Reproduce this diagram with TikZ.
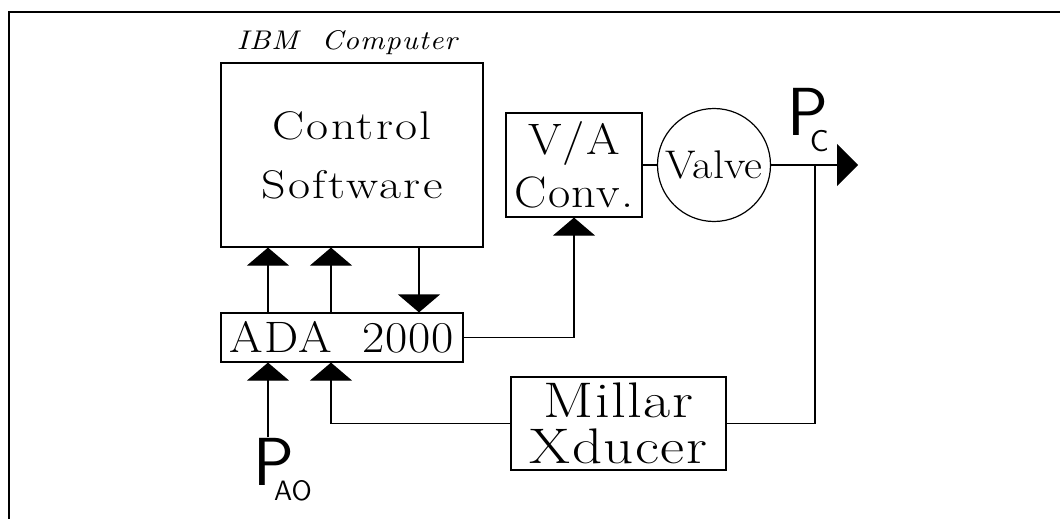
\documentclass[tikz,border=0pt]{standalone}
\usepackage{fontspec}
\setmainfont{lmroman17}[Extension=.otf, UprightFont=*-regular, ItalicFont=lmroman10-italic, BoldFont=lmroman10-bold]
\usepackage{tikz}
\usetikzlibrary{arrows.meta, positioning, shapes.geometric}

\begin{document}
\begin{tikzpicture}[x=0.5pt, y=-0.5pt,
  blk/.style={draw, line width=0.6pt, inner sep=0pt, align=center},
  ln/.style={line width=0.6pt},
  ar/.style={ln, -{Triangle[length=9pt,width=21pt]}},
  lbl/.style={inner sep=0pt, anchor=base west, font=\sffamily\fontsize{34}{34}\selectfont}
]
  \useasboundingbox (0,0) rectangle (1060,519);
  \draw[line width=1.2pt] (9,519) -- (9,12) -- (1060,12);

  \node[inner sep=0pt, font=\addfontfeatures{FakeStretch=1.1, LetterSpace=4}\fontsize{13.5}{15}\selectfont\itshape] (ibm) at (347,43) {IBM~~Computer};
  \node[blk, minimum width=131pt, minimum height=92pt,
    font=\addfontfeatures{FakeStretch=1.2, LetterSpace=6}\fontsize{20}{29.5}\selectfont] (ctrl) at (352,155) {Control\\Software};
  \node[blk, minimum width=68pt, minimum height=52pt,
    font=\addfontfeatures{FakeStretch=1.1, LetterSpace=3}\fontsize{22}{26.5}\selectfont] (va) at (574,165) {V/A\\Conv.};
  \node[blk, circle, minimum size=56.5pt,
    font=\addfontfeatures{FakeStretch=1.1}\fontsize{20}{22}\selectfont] (valve) at (714,165) {Valve};
  \node[blk, minimum width=121pt, minimum height=24.5pt,
    font=\addfontfeatures{FakeStretch=1.1, LetterSpace=2}\fontsize{22}{24}\selectfont] (ada) at (342,337.5) {ADA~~2000};
  \node[blk, minimum width=107.5pt, minimum height=46.5pt,
    font=\addfontfeatures{FakeStretch=1.18, LetterSpace=3}\fontsize{25}{23}\selectfont] (mil) at (618.5,423.5) {Millar\\Xducer};

  \node[lbl] (pc) at (787,135) {P\kern-9.2pt\raisebox{-8.5pt}{\fontsize{15}{15}\selectfont C}};
  \node[lbl] (pao) at (253,485) {P\kern-10pt\raisebox{-7.5pt}{\fontsize{14}{14}\selectfont AO}};

  \coordinate (c1) at (268,0);
  \coordinate (c2) at (331,0);
  \coordinate (c3) at (419,0);
  \coordinate (c5) at (815,0);
  \coordinate (pend) at (858,165);

  \draw[ar] (ada.north -| c1) -- (ctrl.south -| c1);
  \draw[ar] (ada.north -| c2) -- (ctrl.south -| c2);
  \draw[ar] (ctrl.south -| c3) -- (ada.north -| c3);
  \draw[ar] (pao.north -| c1) -- (ada.south -| c1);
  \draw[ar] (mil.west) -| (ada.south -| c2);
  \draw[ar] (ada.east) -| (va.south);
  \draw[ln] (va.east) -- (valve.west);
  \draw[ln, -{Triangle[length=10.5pt,width=21pt]}] (valve.east) -- (pend);
  \draw[ln] (mil.east) -| (c5 |- valve.east);
\end{tikzpicture}
\end{document}
